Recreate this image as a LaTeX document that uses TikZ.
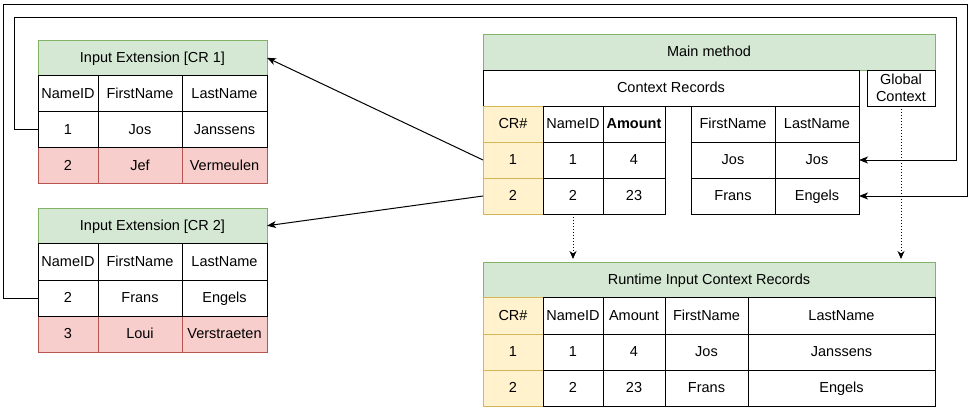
\documentclass[tikz,border=0pt]{standalone}
\usepackage{fontspec}
\setmainfont{Liberation Sans}
\usetikzlibrary{arrows.meta}
\definecolor{gfill}{HTML}{D5E8D4}
\definecolor{gline}{HTML}{82B366}
\definecolor{rfill}{HTML}{F8CECC}
\definecolor{rline}{HTML}{B85450}
\definecolor{yfill}{HTML}{FFF2CC}
\definecolor{yline}{HTML}{D6B656}
\newcommand\mycell[7]{\node[#1, minimum width={(#5)-(#3)}, minimum height={(#6)-(#4)}] (#2) at ({((#3)+(#5))/2},{((#4)+(#6))/2}) {#7};}
\begin{document}
\begin{tikzpicture}[x=1pt,y=-1pt,
  base0/.style={draw, line width=1pt, inner sep=0pt, outer sep=0pt, font=\fontsize{14.5}{17}\selectfont, align=center, text=black},
  base/.style={base0, text height=10pt, text depth=1pt},
  cellbox/.style={base, draw=black, fill=white},
  twoline/.style={base0, draw=black, fill=white},
  hdrbox/.style={base, draw=gline, fill=gfill},
  redbox/.style={base, draw=rline, fill=rfill},
  yelbox/.style={base, draw=yline, fill=yfill},
  arr/.style={draw=black, line width=1pt, -{Stealth[length=9pt,width=7pt,inset=2.5pt]}},
  dotarr/.style={draw=black, line width=1pt, dotted, shorten >=3pt, -{Stealth[length=8pt,width=7pt,inset=2.5pt]}}]
\useasboundingbox (0,0) rectangle (978,415);

% ---- Input Extension [CR 1]
\mycell{hdrbox}{t1head}{38}{40}{267}{75.5}{Input Extension [CR 1]}
\mycell{redbox}{t1r2c1}{38}{147.5}{98}{183.5}{2}
\mycell{redbox}{t1r2c2}{98}{147.5}{182}{183.5}{Jef}
\mycell{redbox}{t1r2c3}{182}{147.5}{267}{183.5}{Vermeulen}
\mycell{cellbox}{t1h1}{38}{75.5}{98}{111.5}{NameID}
\mycell{cellbox}{t1h2}{98}{75.5}{182}{111.5}{FirstName}
\mycell{cellbox}{t1h3}{182}{75.5}{267}{111.5}{LastName}
\mycell{cellbox}{t1r1c1}{38}{111.5}{98}{147.5}{1}
\mycell{cellbox}{t1r1c2}{98}{111.5}{182}{147.5}{Jos}
\mycell{cellbox}{t1r1c3}{182}{111.5}{267}{147.5}{Janssens}

% ---- Input Extension [CR 2]
\mycell{hdrbox}{t2head}{38}{208}{267}{243.5}{Input Extension [CR 2]}
\mycell{redbox}{t2r2c1}{38}{316}{98}{352}{3}
\mycell{redbox}{t2r2c2}{98}{316}{182}{352}{Loui}
\mycell{redbox}{t2r2c3}{182}{316}{267}{352}{Verstraeten}
\mycell{cellbox}{t2h1}{38}{243.5}{98}{280}{NameID}
\mycell{cellbox}{t2h2}{98}{243.5}{182}{280}{FirstName}
\mycell{cellbox}{t2h3}{182}{243.5}{267}{280}{LastName}
\mycell{cellbox}{t2r1c1}{38}{280}{98}{316}{2}
\mycell{cellbox}{t2r1c2}{98}{280}{182}{316}{Frans}
\mycell{cellbox}{t2r1c3}{182}{280}{267}{316}{Engels}

% ---- Main method
\mycell{hdrbox}{mhead}{483}{34}{935}{70}{Main method}
\mycell{cellbox}{mctx}{483}{70}{859}{106}{Context Records}
\mycell{twoline}{gctx}{867}{70}{935}{106}{Global\\Context}
\mycell{yelbox}{mh1}{483}{106}{543}{142}{CR\#}
\mycell{yelbox}{mcr1}{483}{142}{543}{178}{1}
\mycell{yelbox}{mcr2}{483}{178}{543}{214}{2}
\mycell{cellbox}{mh2}{543}{106}{603}{142}{NameID}
\mycell{cellbox}{mh3}{603}{106}{665}{142}{\textbf{Amount}}
\mycell{cellbox}{m1r1c2}{543}{142}{603}{178}{1}
\mycell{cellbox}{m1r1c3}{603}{142}{665}{178}{4}
\mycell{cellbox}{m1r2c2}{543}{178}{603}{214}{2}
\mycell{cellbox}{m1r2c3}{603}{178}{665}{214}{23}
\mycell{cellbox}{m2h1}{691}{106}{775}{142}{FirstName}
\mycell{cellbox}{m2h2}{775}{106}{859}{142}{LastName}
\mycell{cellbox}{m2r1c1}{691}{142}{775}{178}{Jos}
\mycell{cellbox}{m2r1c2}{775}{142}{859}{178}{Jos}
\mycell{cellbox}{m2r2c1}{691}{178}{775}{214}{Frans}
\mycell{cellbox}{m2r2c2}{775}{178}{859}{214}{Engels}

% ---- Runtime Input Context Records
\mycell{hdrbox}{rhead}{483}{262}{935}{297.5}{Runtime Input Context Records}
\mycell{yelbox}{rh1}{483}{297.5}{543}{334}{CR\#}
\mycell{yelbox}{rr1c1}{483}{334}{543}{370}{1}
\mycell{yelbox}{rr2c1}{483}{370}{543}{406}{2}
\mycell{cellbox}{rh2}{543}{297.5}{603}{334}{NameID}
\mycell{cellbox}{rh3}{603}{297.5}{665}{334}{Amount}
\mycell{cellbox}{rh4}{665}{297.5}{748}{334}{FirstName}
\mycell{cellbox}{rh5}{748}{297.5}{935}{334}{LastName}
\mycell{cellbox}{rr1c2}{543}{334}{603}{370}{1}
\mycell{cellbox}{rr1c3}{603}{334}{665}{370}{4}
\mycell{cellbox}{rr1c4}{665}{334}{748}{370}{Jos}
\mycell{cellbox}{rr1c5}{748}{334}{935}{370}{Janssens}
\mycell{cellbox}{rr2c2}{543}{370}{603}{406}{2}
\mycell{cellbox}{rr2c3}{603}{370}{665}{406}{23}
\mycell{cellbox}{rr2c4}{665}{370}{748}{406}{Frans}
\mycell{cellbox}{rr2c5}{748}{370}{935}{406}{Engels}

% ---- connectors
\draw[arr] (mcr1.west) -- (t1head.east);
\draw[arr] (mcr2.west) -- (t2head.east);
\draw[arr] (t1r1c1.west) -- ++(-24,0) |- (956,17) |- (m2r1c2.east);
\draw[arr] (t2r1c1.west) -- ++(-35,0) |- (967,4) |- (m2r2c2.east);
\draw[dotarr] (m1r2c2.south) -- (m1r2c2.south |- rhead.north);
\draw[dotarr] (gctx.south) -- (gctx.south |- rhead.north);
\end{tikzpicture}
\end{document}
